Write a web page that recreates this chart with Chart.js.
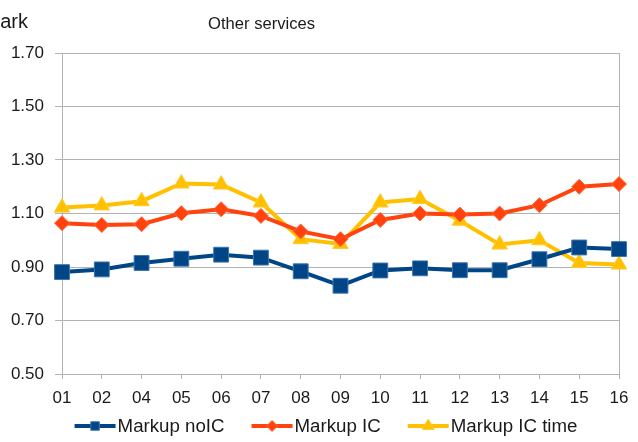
<!DOCTYPE html>
<html>
<head>
<meta charset="utf-8">
<title>Other services</title>
<script src="https://cdn.jsdelivr.net/npm/chart.js@4.4.1/dist/chart.umd.min.js"></script>
<style>
  html, body { margin: 0; padding: 0; background: #fff; }
  #wrap { position: relative; width: 638px; height: 442px; }
</style>
</head>
<body>
<div id="wrap"><canvas id="chart" width="638" height="442"></canvas></div>
<script>
// markup by industry code
const categories = ['01', '02', '04', '05', '06', '07', '08', '09', '10', '11', '12', '13', '14', '15', '16'];
const markupNoIC = [0.881, 0.891, 0.915, 0.931, 0.946, 0.935, 0.884, 0.830, 0.887, 0.895, 0.888, 0.888, 0.929, 0.973, 0.967];
const markupIC = [1.064, 1.057, 1.060, 1.101, 1.116, 1.091, 1.033, 1.004, 1.076, 1.100, 1.096, 1.100, 1.131, 1.200, 1.210];
const markupICTime = [1.122, 1.130, 1.146, 1.212, 1.208, 1.141, 1.004, 0.986, 1.141, 1.154, 1.073, 0.984, 1.000, 0.915, 0.909];
const yTicks = [0.5, 0.7, 0.9, 1.1, 1.3, 1.5, 1.7];
const chartTitle = 'Other services';
const countryName = 'Denmark';

const FONT = '"Liberation Sans", Arial, sans-serif';
const textColor = '#1a1a1a';
const gridColor = '#b3b3b3';

// title text, country name and a legend with line + marker swatches
const headerAndLegend = {
  id: 'headerAndLegend',
  afterDraw(chart) {
    const ctx = chart.ctx;
    ctx.save();
    ctx.fillStyle = textColor;
    ctx.textBaseline = 'alphabetic';

    ctx.font = '20px ' + FONT;
    ctx.textAlign = 'right';
    ctx.fillText(countryName, 28, 28);

    ctx.font = '16.6px ' + FONT;
    ctx.textAlign = 'center';
    ctx.fillText(chartTitle, 261.5, 29);

    ctx.font = '18.7px ' + FONT;
    const lineLen = 41;
    const gap = 27;
    const items = chart.data.datasets.map(ds => ({
      ds,
      w: lineLen + 2 + ctx.measureText(ds.label).width
    }));
    const total = items.reduce((s, it) => s + it.w, 0) + gap * (items.length - 1);
    let x = 326 - total / 2;
    const y = 426;
    items.forEach(({ ds, w }) => {
      ctx.strokeStyle = ds.borderColor;
      ctx.lineWidth = 4;
      ctx.beginPath();
      ctx.moveTo(x, y);
      ctx.lineTo(x + lineLen, y);
      ctx.stroke();

      ctx.fillStyle = ds.pointBackgroundColor;
      ctx.strokeStyle = ds.pointBorderColor;
      ctx.lineWidth = 1;
      Chart.helpers.drawPoint(ctx, { pointStyle: ds.pointStyle, radius: ds.legendRadius, borderWidth: 1, rotation: 0 }, x + lineLen / 2, y);

      ctx.fillStyle = textColor;
      ctx.textAlign = 'left';
      ctx.textBaseline = 'middle';
      ctx.fillText(ds.label, x + lineLen + 2, y + 1);
      x += w + gap;
    });
    ctx.restore();
  }
};

new Chart(document.getElementById('chart').getContext('2d'), {
  type: 'line',
  data: {
    labels: categories,
    datasets: [
      {
        label: 'Markup noIC',
        data: markupNoIC,
        borderColor: '#004586',
        borderWidth: 4,
        pointStyle: 'rect',
        pointRadius: 10.5,
        pointBackgroundColor: '#004586',
        pointBorderColor: '#3c74b0',
        pointBorderWidth: 1,
        legendRadius: 6
      },
      {
        label: 'Markup IC',
        data: markupIC,
        borderColor: '#ff420e',
        borderWidth: 4,
        pointStyle: 'rectRot',
        pointRadius: 7.5,
        pointBackgroundColor: '#ff420e',
        pointBorderColor: '#ff6a3a',
        pointBorderWidth: 1,
        legendRadius: 5.5
      },
      {
        label: 'Markup IC time',
        data: markupICTime,
        borderColor: '#ffc000',
        borderWidth: 4,
        pointStyle: 'triangle',
        pointRadius: 9,
        pointBackgroundColor: '#ffc000',
        pointBorderColor: '#ffcc33',
        pointBorderWidth: 1,
        legendRadius: 7
      }
    ]
  },
  options: {
    responsive: false,
    animation: false,
    devicePixelRatio: 1,
    layout: { padding: { top: 53, right: 19, bottom: 38, left: 0 } },
    plugins: {
      legend: { display: false },
      title: { display: false },
      tooltip: { enabled: false }
    },
    elements: { line: { tension: 0 } },
    scales: {
      x: {
        afterFit(scale) { scale.height = 30; },
        offset: false,
        grid: {
          offset: false,
          color: ctx => (ctx.index === 0 || ctx.index === categories.length - 1) ? gridColor : 'rgba(0,0,0,0)',
          tickColor: gridColor,
          tickLength: 5
        },
        border: { color: gridColor },
        ticks: {
          color: textColor,
          font: { family: FONT, size: 17 },
          padding: 9,
          maxRotation: 0,
          autoSkip: false
        }
      },
      y: {
        min: 0.5,
        max: 1.7,
        afterFit(scale) { scale.width = 62; },
        afterBuildTicks(scale) { scale.ticks = yTicks.map(v => ({ value: v })); },
        grid: { color: gridColor, tickColor: gridColor, tickLength: 7 },
        border: { color: gridColor },
        ticks: {
          color: textColor,
          font: { family: FONT, size: 17 },
          padding: 11,
          callback: v => Number(v).toFixed(2)
        }
      }
    }
  },
  plugins: [headerAndLegend]
});
</script>
</body>
</html>
